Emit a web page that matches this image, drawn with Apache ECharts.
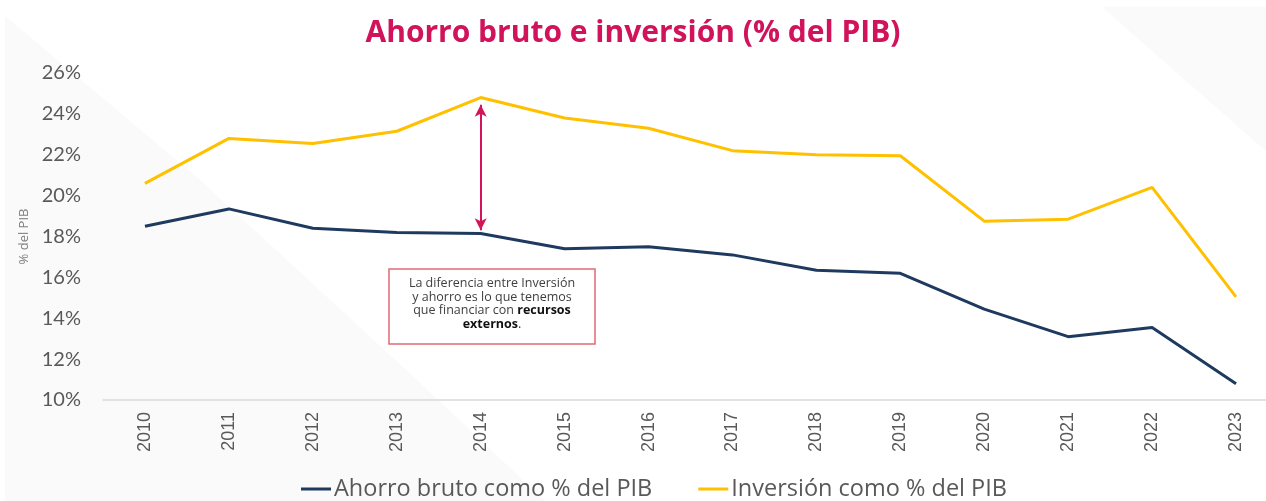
<!DOCTYPE html>
<html lang="es">
<head>
<meta charset="UTF-8">
<title>Ahorro bruto e inversión</title>
<style>
    html, body { margin: 0; padding: 0; background: #fff; }
    #main { width: 1266px; height: 501px; }
</style>
</head>
<body>
<div id="main"></div>
<script src="https://cdn.jsdelivr.net/npm/echarts@6/dist/echarts.min.js"></script>
<script>
// datos (% del PIB)
var years = ['2010', '2011', '2012', '2013', '2014', '2015', '2016',
             '2017', '2018', '2019', '2020', '2021', '2022', '2023'];
var ahorro = [18.5, 19.35, 18.4, 18.2, 18.15, 17.4, 17.5,
              17.1, 16.35, 16.2, 14.45, 13.1, 13.55, 10.8];
var inversion = [20.6, 22.8, 22.55, 23.15, 24.8, 23.8, 23.3,
                 22.2, 22.0, 21.95, 18.75, 18.85, 20.4, 15.05];
// flecha de la diferencia en 2014
var arrowYear = '2014';
var arrowFromTo = [24.45, 18.3];
var yMin = 10, yMax = 26, yStep = 2;

var gris = '#595959';
var myChart = echarts.init(document.getElementById('main'));

var option = {
    backgroundColor: '#fff',
    title: {
        text: 'Ahorro bruto e inversión (% del PIB)',
        left: 'center',
        top: 13,
        textStyle: { color: '#d0135a', fontSize: 30, fontWeight: 'bold', fontFamily: 'Open Sans' }
    },
    legend: {
        bottom: -5,
        left: 296,
        icon: 'rect',
        itemWidth: 30,
        itemHeight: 3,
        itemGap: 46,
        textStyle: { color: gris, fontSize: 23.5, fontFamily: 'Open Sans', padding: [0, 0, 0, -2] },
        data: ['Ahorro bruto como % del PIB', 'Inversión como % del PIB']
    },
    grid: { left: 103, right: -12, top: 73, bottom: 101, outerBoundsMode: 'none' },
    xAxis: {
        type: 'category',
        data: years,
        boundaryGap: true,
        axisLine: { lineStyle: { color: '#d9d9d9', width: 1.5 } },
        axisTick: { show: false },
        axisLabel: { rotate: 90, color: gris, fontSize: 18, fontFamily: 'Liberation Sans', margin: 12 }
    },
    yAxis: {
        type: 'value',
        min: yMin, max: yMax, interval: yStep,
        name: '% del PIB',
        nameLocation: 'middle',
        nameGap: 68,
        nameTextStyle: { color: '#7f7f7f', fontSize: 13, fontFamily: 'Open Sans' },
        axisLine: { show: false },
        axisTick: { show: false },
        splitLine: { show: false },
        axisLabel: {
            color: gris, fontSize: 20, fontFamily: 'Lato', margin: 22,
            formatter: function (v) { return v + '%'; }
        }
    },
    series: [
        {
            name: 'Ahorro bruto como % del PIB',
            type: 'line',
            data: ahorro,
            symbol: 'none',
            color: '#1f3a5f',
            lineStyle: { width: 3, color: '#1f3a5f' }
        },
        {
            name: 'Inversión como % del PIB',
            type: 'line',
            data: inversion,
            symbol: 'none',
            color: '#ffc000',
            lineStyle: { width: 3, color: '#ffc000' },
            markLine: {
                silent: true,
                symbol: ['arrow', 'arrow'],
                symbolSize: [9, 12],
                label: { show: false },
                lineStyle: { color: '#d4145a', width: 2, type: 'solid' },
                data: [[{ coord: [arrowYear, arrowFromTo[0]] }, { coord: [arrowYear, arrowFromTo[1]] }]]
            }
        }
    ],
    graphic: [
        // fondo con triángulos grises muy claros
        { type: 'polygon', silent: true, z: -10,
          shape: { points: [[5, 16], [200, 180], [417, 380], [545, 501], [5, 501]] },
          style: { fill: '#fafafa' } },
        { type: 'polygon', silent: true, z: -10,
          shape: { points: [[1102, 7], [1266, 7], [1266, 151]] },
          style: { fill: '#fafafa' } },
        // recuadro de nota
        { type: 'rect', silent: true, z: 10,
          shape: { x: 389, y: 269, width: 206, height: 75 },
          style: { fill: '#fff', stroke: '#e06a74', lineWidth: 1.5 } },
        { type: 'text', silent: true, z: 11,
          x: 492, y: 277,
          style: {
              text: 'La diferencia entre Inversión\ny ahorro es lo que tenemos\nque financiar con {b|recursos}\n{b|externos}.',
              align: 'center',
              verticalAlign: 'top',
              fill: '#404040',
              font: '12.5px "Open Sans"',
              lineHeight: 13.5,
              rich: {
                  b: { fontWeight: 'bold', fill: '#111', fontSize: 12.5, fontFamily: 'Open Sans', lineHeight: 13.5 }
              }
          } }
    ]
};

myChart.setOption(option);
</script>
</body>
</html>
